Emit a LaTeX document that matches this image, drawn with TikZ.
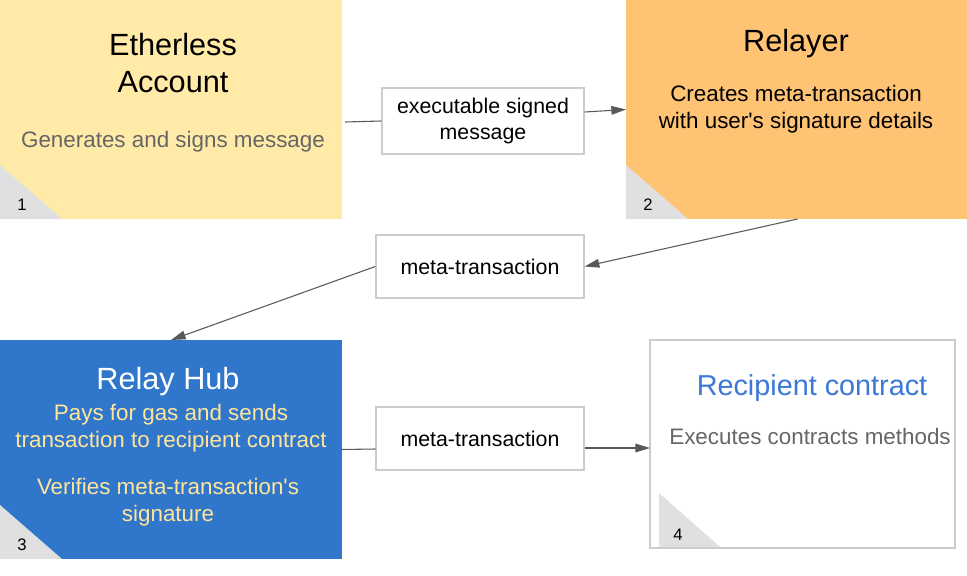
\documentclass[tikz,border=0pt]{standalone}
\usepackage{fontspec}
\setmainfont{Liberation Sans}
\usepackage{tikz}
\usetikzlibrary{positioning,calc,arrows.meta}

\definecolor{paleyellow}{HTML}{FFEAA7}
\definecolor{paleorange}{HTML}{FFC374}
\definecolor{hubblue}{HTML}{3077CC}
\definecolor{hubtext}{HTML}{FFE599}
\definecolor{titleblue}{HTML}{3C78D8}
\definecolor{softgray}{HTML}{666666}
\definecolor{cornergray}{HTML}{E0E0E0}
\definecolor{edgegray}{HTML}{CCCCCC}
\definecolor{arrowgray}{HTML}{595959}

\tikzset{
  card/.style = {rectangle, anchor = north west, inner sep = 0pt, outer sep = 0pt},
  tag/.style = {rectangle, draw = edgegray, line width = 1pt, fill = white,
    minimum width = 156pt, minimum height = 47.25pt, inner sep = 0pt,
    align = center, font = \fontsize{16}{20}\selectfont},
  title/.style = {align = center, font = \fontsize{23}{27.5}\selectfont},
  body/.style = {align = center, font = \fontsize{16.8}{20.25}\selectfont},
  num/.style = {font = \fontsize{12.5}{14}\selectfont},
  flow/.style = {draw = arrowgray, line width = 0.8pt},
  tip/.style = {flow, -{Triangle[length = 11pt, width = 6.5pt]}}
}

\begin{document}
\begin{tikzpicture}[x = 0.75pt, y = -0.75pt]
  \useasboundingbox (0,0) rectangle (967,575);

  % the four cards
  \node[card, fill = paleyellow, minimum width = 256.5pt, minimum height = 164.25pt]
    (ether) at (0,0) {};
  \node[card, fill = paleorange, minimum width = 255.75pt, minimum height = 164.25pt]
    (relayer) at (626,0) {};
  \node[card, fill = hubblue, minimum width = 256.5pt, minimum height = 164.25pt]
    (hub) at (0,340) {};
  \node[card, draw = edgegray, line width = 1pt, fill = white,
    minimum width = 228.75pt, minimum height = 156pt] (recip) at (650,340) {};

  % folded corners
  \fill[cornergray] (ether.south west) -- ++(0,-54) -- ++(62,54) -- cycle;
  \fill[cornergray] (relayer.south west) -- ++(0,-54) -- ++(62,54) -- cycle;
  \fill[cornergray] (hub.south west) -- ++(0,-54) -- ++(62,54) -- cycle;
  \fill[cornergray] ($(recip.south west)+(9,-1)$) -- ++(0,-54) -- ++(61,54) -- cycle;

  % card numbers
  \node[num] (n1) at (22,205) {1};
  \node[num] (n2) at (648,205) {2};
  \node[num] (n3) at (22,545) {3};
  \node[num] (n4) at (678,535) {4};

  % card texts
  \node[title] (etherhead) at (173,63) {Etherless\\Account};
  \node[body, text = softgray] (etherbody) at (173,142) {Generates and signs message};

  \node[title] (relayerhead) at (796,44) {Relayer};
  \node[body] (relayerbody) at (796,109)
    {Creates meta-transaction\\with user\textquotesingle s signature details};

  \node[title, text = white] (hubhead) at (168,382) {Relay Hub};
  \node[body, text = hubtext] (hubpay) at (171,428)
    {Pays for gas and sends\\transaction to recipient contract};
  \node[body, text = hubtext] (hubcheck) at (168,502)
    {Verifies meta-transaction\textquotesingle s\\signature};

  \node[title, text = titleblue, font = \fontsize{21.6}{26}\selectfont]
    (reciphead) at (812,388) {Recipient contract};
  \node[body, text = softgray] (recipbody) at (810,436) {Executes contracts methods};

  % message labels
  \node[tag, minimum width = 151.5pt, minimum height = 49.5pt]
    (msg) at (483,121) {executable signed\\message};
  \node[tag] (mtxa) at (480,266.5) {meta-transaction};
  \node[tag] (mtxb) at (480,438.5) {meta-transaction};

  % connectors
  \draw[flow] ($(ether.east)+(3,12.5)$) -- (msg.west);
  \draw[tip] ($(msg.east)+(0,-9)$) -- (relayer.west);
  \draw[tip] ($(relayer.south)+(1,0)$) -- (mtxa.east);
  \draw[tip] (mtxa.west) -- (hub.north);
  \draw[flow] (hub.east) -- ($(mtxb.west)+(0,10.5)$);
  \draw[tip] ($(mtxb.east)+(0,9.5)$) -- ($(recip.west)+(0,4)$);
\end{tikzpicture}
\end{document}
